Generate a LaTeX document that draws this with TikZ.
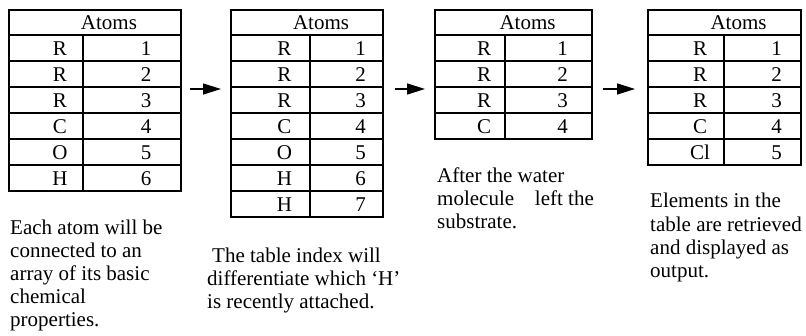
\documentclass[tikz,border=0pt]{standalone}
\usepackage{fontspec}
\setmainfont{Liberation Serif}
\usetikzlibrary{arrows.meta,fit}
\newcommand{\bigtext}{\fontsize{21pt}{23pt}\selectfont}
\tikzset{
  gridline/.style={line width=2pt, line cap=rect},
  tabframe/.style={draw, line width=2pt, inner sep=0pt, outer sep=0pt},
  celltext/.style={anchor=base, inner sep=0pt, font=\bigtext},
  captionline/.style={anchor=base west, inner sep=0pt, font=\bigtext},
  arr/.style={line width=1.4pt, -{Triangle[length=18pt,width=11pt]}}
}
% name, left, divider, right, number of rows, letters
\newcommand{\atomtab}[6]{%
  \pgfmathsetmacro{\tb}{35+26*#5}
  \coordinate (#1nw) at (#2,9.5);
  \coordinate (#1se) at (#4,\tb);
  \node[tabframe, fit=(#1nw)(#1se)] (#1) {};
  \draw[gridline] (#2,35) -- (#4,35);
  \draw[gridline] (#3,35) -- (#3,\tb);
  \node[celltext] (#1-head) at ({(#2+#4)/2+14},29.5) {Atoms};
  \foreach \L [count=\i] in {#6} {
    \pgfmathsetmacro{\yb}{35+26*\i}
    \draw[gridline] (#2,\yb) -- (#4,\yb);
    \node[celltext] (#1-l\i) at ({(#2+#3)/2+14},{\yb-5.5}) {\L};
    \node[celltext] (#1-n\i) at ({(#3+#4)/2+14},{\yb-5.5}) {\i};
  }
}
\begin{document}
\begin{tikzpicture}[x=1pt,y=-1pt]
\useasboundingbox (0,0) rectangle (806,335);

\atomtab{t1}{9}{83}{181}{6}{R,R,R,C,O,H}
\atomtab{t2}{231}{310}{383}{7}{R,R,R,C,O,H,H}
\atomtab{t3}{435}{505}{592}{4}{R,R,R,C}
\atomtab{t4}{648}{724}{801}{5}{R,R,R,C,Cl}

\coordinate (a1s) at (190,89); \coordinate (a1e) at (221,89);
\coordinate (a2s) at (395,89); \coordinate (a2e) at (425,89);
\coordinate (a3s) at (603,89); \coordinate (a3e) at (635,89);
\draw[arr] (a1s) -- (a1e);
\draw[arr] (a2s) -- (a2e);
\draw[arr] (a3s) -- (a3e);

\node[captionline] (c1a) at (10,234) {Each atom will be};
\node[captionline] (c1b) at (10,257) {connected to an};
\node[captionline] (c1c) at (10,280) {array of its basic};
\node[captionline] (c1d) at (10,303) {chemical};
\node[captionline] (c1e) at (10,326) {properties.};

\node[captionline] (c2a) at (212,262) {The table index will};
\node[captionline] (c2b) at (207,285) {differentiate which ‘H’};
\node[captionline] (c2c) at (207,308) {is recently attached.};

\node[captionline] (c3a) at (437,182) {After the water};
\node[captionline] (c3b) at (437,205) {molecule\hspace{15.5pt} left the};
\node[captionline] (c3c) at (437,228) {substrate.};

\node[captionline] (c4a) at (650,207) {Elements in the};
\node[captionline] (c4b) at (650,231) {table are retrieved};
\node[captionline] (c4c) at (650,254) {and displayed as};
\node[captionline] (c4d) at (650,277) {output.};
\end{tikzpicture}
\end{document}
